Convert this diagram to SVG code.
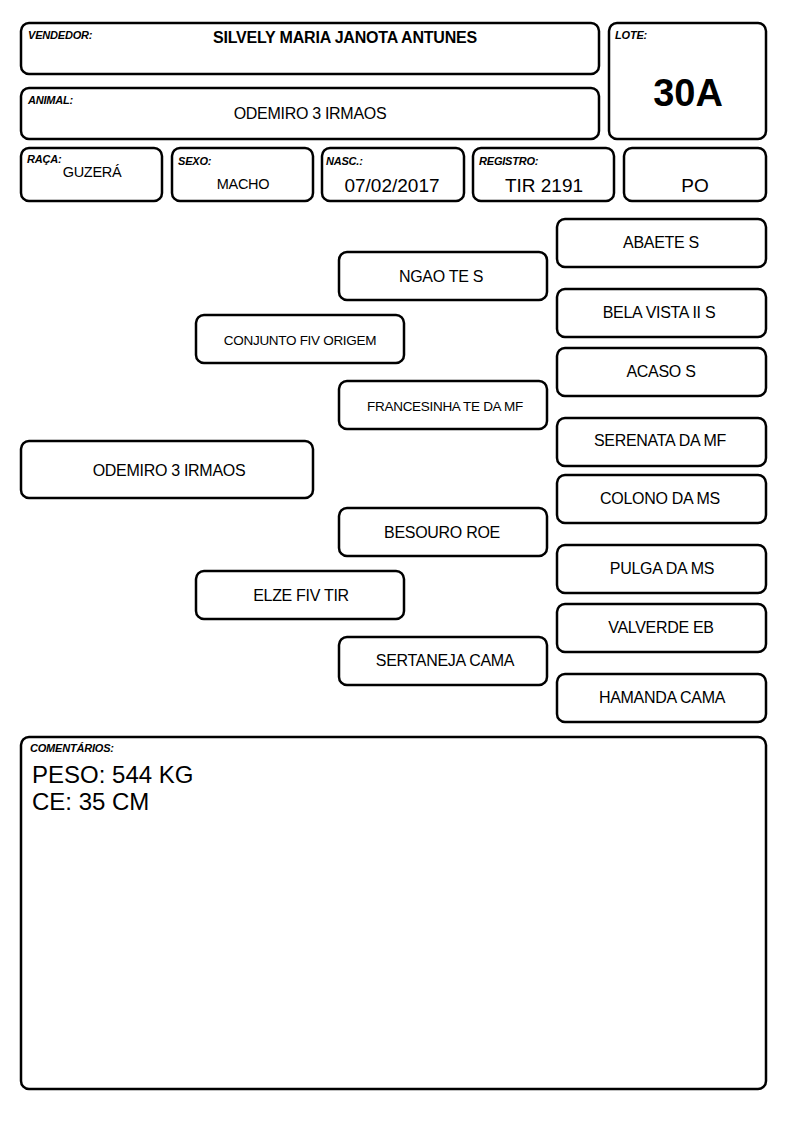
<svg xmlns="http://www.w3.org/2000/svg" width="794" height="1123" viewBox="0 0 794 1123">
<style>
rect{fill:#fff;stroke:#000;stroke-width:2.5}
text{font-family:"Liberation Sans",Arial,sans-serif;fill:#000}
.lb{font-size:11px;font-weight:bold;font-style:italic;letter-spacing:-0.2px}
.v{font-size:16px;text-anchor:middle;letter-spacing:-0.3px}
.h{font-size:14.5px;text-anchor:middle;letter-spacing:-0.3px}
.s{font-size:13.5px;text-anchor:middle;letter-spacing:-0.3px}
.p{font-size:16px;text-anchor:middle;letter-spacing:-0.3px}
.d{font-size:19px;text-anchor:middle}
</style>
<rect x="0" y="0" width="794" height="1123" style="fill:#fff;stroke:none"/>
<g id="vendedor"><rect x="21" y="23" width="578" height="51" rx="8"/><text class="lb" x="28" y="39">VENDEDOR:</text><text x="345" y="43" style="font-size:16px;font-weight:bold;text-anchor:middle;letter-spacing:-0.2px">SILVELY MARIA JANOTA ANTUNES</text></g>
<g id="animal"><rect x="21" y="88" width="578" height="51" rx="8"/><text class="lb" x="28" y="104">ANIMAL:</text><text class="p" x="310" y="119">ODEMIRO 3 IRMAOS</text></g>
<g id="lote"><rect x="609" y="23" width="157" height="116" rx="8"/><text class="lb" x="615" y="39">LOTE:</text><text x="688" y="106" style="font-size:38px;font-weight:bold;text-anchor:middle">30A</text></g>
<g id="raca"><rect x="21" y="148" width="141" height="53" rx="8"/><text class="lb" x="27" y="163">RAÇA:</text><text class="h" x="92" y="177">GUZERÁ</text></g>
<g id="sexo"><rect x="172" y="148" width="141" height="53" rx="8"/><text class="lb" x="178" y="165">SEXO:</text><text class="h" x="243" y="189">MACHO</text></g>
<g id="nasc"><rect x="322" y="148" width="142" height="53" rx="8"/><text class="lb" x="326" y="165">NASC.:</text><text class="d" x="392" y="192">07/02/2017</text></g>
<g id="registro"><rect x="473" y="148" width="141" height="53" rx="8"/><text class="lb" x="479" y="165">REGISTRO:</text><text class="d" x="544" y="192">TIR 2191</text></g>
<g id="po"><rect x="624" y="148" width="142" height="53" rx="8"/><text class="d" x="695" y="192">PO</text></g>
<g id="connectors"></g>
<g id="n-animal"><rect x="21" y="441" width="292" height="57" rx="8"/><text class="p" x="169" y="476">ODEMIRO 3 IRMAOS</text></g>
<g id="n-pai"><rect x="196" y="315" width="208" height="48" rx="8"/><text class="s" x="300" y="345">CONJUNTO FIV ORIGEM</text></g>
<g id="n-mae"><rect x="196" y="571" width="208" height="48" rx="8"/><text class="v" x="301" y="601">ELZE FIV TIR</text></g>
<g id="n-aa1"><rect x="339" y="252" width="208" height="48" rx="8"/><text class="v" x="441" y="282">NGAO TE S</text></g>
<g id="n-aa2"><rect x="339" y="381" width="208" height="48" rx="8"/><text class="s" x="445" y="411">FRANCESINHA TE DA MF</text></g>
<g id="n-aa3"><rect x="339" y="508" width="208" height="48" rx="8"/><text class="v" x="442" y="538">BESOURO ROE</text></g>
<g id="n-aa4"><rect x="339" y="637" width="208" height="48" rx="8"/><text class="v" x="445" y="666">SERTANEJA CAMA</text></g>
<g id="n-b1"><rect x="557" y="219" width="209" height="48" rx="8"/><text class="v" x="661" y="248">ABAETE S</text></g>
<g id="n-b2"><rect x="557" y="289" width="209" height="48" rx="8"/><text class="v" x="659" y="318">BELA VISTA II S</text></g>
<g id="n-b3"><rect x="557" y="348" width="209" height="48" rx="8"/><text class="v" x="661" y="377">ACASO S</text></g>
<g id="n-b4"><rect x="557" y="418" width="209" height="48" rx="8"/><text class="v" x="660" y="446">SERENATA DA MF</text></g>
<g id="n-b5"><rect x="557" y="475" width="209" height="48" rx="8"/><text class="v" x="660" y="504">COLONO DA MS</text></g>
<g id="n-b6"><rect x="557" y="545" width="209" height="48" rx="8"/><text class="v" x="662" y="574">PULGA DA MS</text></g>
<g id="n-b7"><rect x="557" y="604" width="209" height="48" rx="8"/><text class="v" x="661" y="633">VALVERDE EB</text></g>
<g id="n-b8"><rect x="557" y="674" width="209" height="48" rx="8"/><text class="v" x="662" y="703">HAMANDA CAMA</text></g>
<g id="comentarios"><rect x="21" y="737" width="745" height="352" rx="8"/><text class="lb" x="30" y="752">COMENTÁRIOS:</text><text x="32" y="783" style="font-size:24px">PESO: 544 KG</text><text x="32" y="810" style="font-size:24px">CE: 35 CM</text></g>
</svg>
